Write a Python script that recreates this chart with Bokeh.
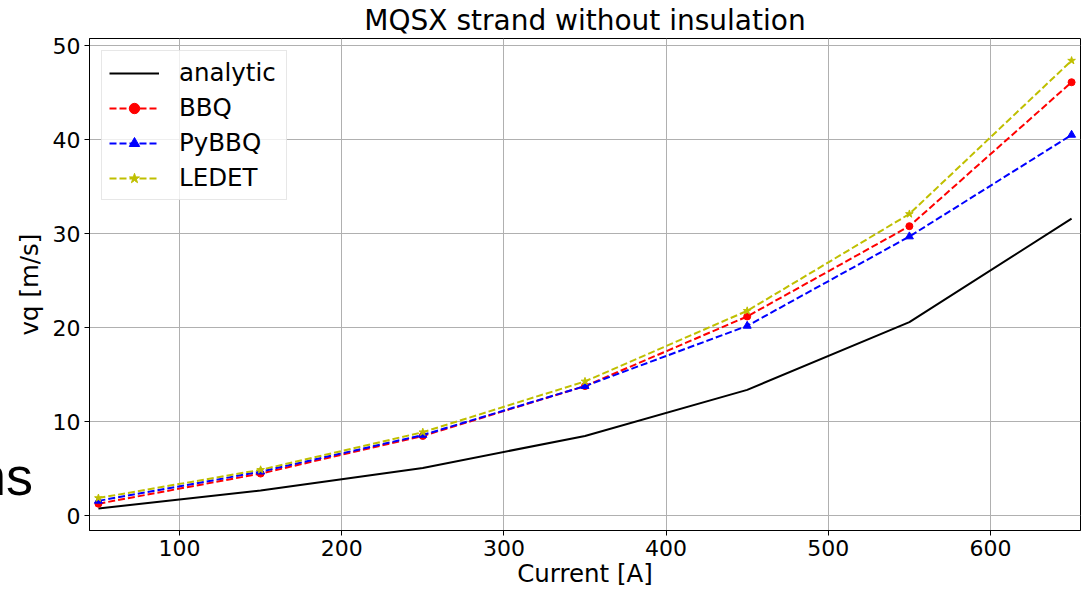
from bokeh.plotting import figure
from bokeh.models import Range1d, FixedTicker, Legend, LegendItem, Div
from bokeh.layouts import column
from bokeh.embed import file_html
from bokeh.resources import INLINE

current = [50, 150, 250, 350, 450, 550, 650]
analytic = [0.8, 2.7, 5.1, 8.5, 13.4, 20.6, 31.6]
bbq = [1.3, 4.5, 8.5, 13.8, 21.2, 30.8, 46.1]
pybbq = [1.6, 4.7, 8.6, 13.8, 20.2, 29.7, 40.5]
ledet = [1.9, 4.9, 8.9, 14.3, 21.8, 32.1, 48.4]
x_ticks = [100, 200, 300, 400, 500, 600]
y_ticks = [0, 10, 20, 30, 40, 50]

FONT = "DejaVu Sans"

p = figure(width=1086, height=590, output_backend="svg", toolbar_location=None,
           x_range=Range1d(44.5, 655.5), y_range=Range1d(-1.55, 50.75),
           min_border_left=89, min_border_right=6, min_border_top=37, min_border_bottom=60,
           title="MQSX strand without insulation")
p.title.align = "center"
p.title.text_font = FONT
p.title.text_font_size = "28px"
p.title.text_font_style = "normal"
p.title.text_color = "black"
p.title.offset = 0
p.title.standoff = 3

p.outline_line_color = "black"
p.outline_line_width = 1
for ax in (p.xaxis[0], p.yaxis[0]):
    ax.axis_line_color = "black"
    ax.major_tick_line_color = "black"
    ax.major_tick_out = 5
    ax.major_tick_in = 0
    ax.minor_tick_line_color = None
    ax.major_label_text_font = FONT
    ax.major_label_text_font_size = "22px"
    ax.major_label_text_color = "black"
    ax.axis_label_text_font = FONT
    ax.axis_label_text_font_size = "24.5px"
    ax.axis_label_text_font_style = "normal"
    ax.axis_label_text_color = "black"
p.xaxis.ticker = FixedTicker(ticks=x_ticks)
p.yaxis.ticker = FixedTicker(ticks=y_ticks)
p.xaxis.axis_label = "Current [A]"
p.yaxis.axis_label = "vq [m/s]"
p.xaxis.axis_label_standoff = 0
p.yaxis.axis_label_standoff = 6
p.xaxis.major_label_standoff = 4
p.yaxis.major_label_standoff = 4
p.grid.grid_line_color = "#b0b0b0"
p.grid.grid_line_width = 1

dash = "7 3"
r_an = p.line(current, analytic, color="black", line_width=2)
r_bbq_l = p.line(current, bbq, color="red", line_width=2, line_dash=dash)
r_bbq_m = p.scatter(current, bbq, color="red", marker="circle", size=7)
r_py_l = p.line(current, pybbq, color="blue", line_width=2, line_dash=dash)
r_py_m = p.scatter(current, pybbq, color="blue", marker="triangle", size=8)
r_le_l = p.line(current, ledet, color="#bfbf00", line_width=2, line_dash=dash)
r_le_m = p.scatter(current, ledet, color="#bfbf00", marker="star", size=8)

legend = Legend(items=[
    LegendItem(label="analytic", renderers=[r_an]),
    LegendItem(label="BBQ", renderers=[r_bbq_l, r_bbq_m]),
    LegendItem(label="PyBBQ", renderers=[r_py_l, r_py_m]),
    LegendItem(label="LEDET", renderers=[r_le_l, r_le_m]),
], location="top_left")
legend.label_text_font = FONT
legend.label_text_font_size = "24.5px"
legend.label_text_color = "black"
legend.glyph_width = 50
legend.glyph_height = 26
legend.label_height = 26
legend.label_width = 100
legend.label_standoff = 20
legend.spacing = 6
legend.padding = 7
legend.margin = 12
legend.border_line_color = "#d0d0d0"
legend.border_line_width = 1
legend.background_fill_alpha = 0.8
p.add_layout(legend)

# fragment of neighbouring slide text, cut at the left edge as in the reference
stray = Div(text="ns", width=100, height=60, margin=(-141, 0, 0, -24),
            styles={"font-size": "54px", "font-family": "Liberation Sans",
                    "line-height": "54px", "color": "black"})

layout = column(p, stray, spacing=0)
open("out.html", "w").write(file_html(layout, INLINE))
